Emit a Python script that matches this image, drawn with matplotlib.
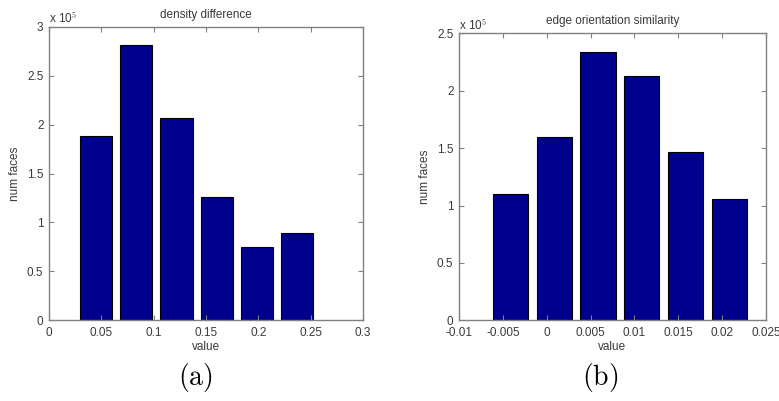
import matplotlib
matplotlib.use("Agg")
import matplotlib.pyplot as plt
import numpy as np

plt.rcParams['mathtext.fontset'] = 'cm'
plt.rcParams['font.family'] = ['Liberation Sans', 'DejaVu Sans']

# Panel (a): density difference
a_centers = [0.0450, 0.0834, 0.1218, 0.1602, 0.1986, 0.2370]
a_counts = [1.88e5, 2.81e5, 2.07e5, 1.26e5, 0.746e5, 0.892e5]
a_xticks = [0, 0.05, 0.1, 0.15, 0.2, 0.25, 0.3]
a_xticklabels = ['0', '0.05', '0.1', '0.15', '0.2', '0.25', '0.3']
a_yticks = [0, 0.5e5, 1e5, 1.5e5, 2e5, 2.5e5, 3e5]
a_yticklabels = ['0', '0.5', '1', '1.5', '2', '2.5', '3']

# Panel (b): edge orientation similarity
b_centers = [-0.00415, 0.00085, 0.00585, 0.01085, 0.01585, 0.02085]
b_counts = [1.098e5, 1.594e5, 2.334e5, 2.128e5, 1.463e5, 1.057e5]
b_xticks = [-0.01, -0.005, 0, 0.005, 0.01, 0.015, 0.02, 0.025]
b_xticklabels = ['-0.01', '-0.005', '0', '0.005', '0.01', '0.015', '0.02', '0.025']
b_yticks = [0, 0.5e5, 1e5, 1.5e5, 2e5, 2.5e5]
b_yticklabels = ['0', '0.5', '1', '1.5', '2', '2.5']

BAR = '#00008F'
SPINE = '#808080'
TXT = '#3a3a3a'
FS = 8.5

fig = plt.figure(figsize=(7.79, 4.01), dpi=100)
W, H = 779, 401

def make_axes(l, r, t, b):
    return fig.add_axes([l / W, 1 - b / H, (r - l) / W, (b - t) / H])

axA = make_axes(49, 363, 26.7, 320.3)
axB = make_axes(459, 766, 33.3, 320.3)

def style(ax, centers, counts, width, xlim, ylim, xt, xtl, yt, ytl, title):
    ax.bar(centers, counts, width=width, color=BAR, edgecolor='black', linewidth=0.8)
    ax.set_xlim(*xlim)
    ax.set_ylim(*ylim)
    ax.set_xticks(xt)
    ax.set_xticklabels(xtl)
    ax.set_yticks(yt)
    ax.set_yticklabels(ytl)
    for s in ax.spines.values():
        s.set_color(SPINE)
        s.set_linewidth(1.0)
    ax.tick_params(direction='in', length=3.5, width=0.8, color=SPINE,
                   top=True, right=True, labelsize=FS, labelcolor=TXT)
    ax.tick_params(axis='x', pad=5)
    ax.tick_params(axis='y', pad=4)
    ax.set_title(title, fontsize=FS, color=TXT, pad=6.5)
    ax.set_xlabel('value', fontsize=FS, color=TXT, labelpad=1.5)
    ax.set_ylabel('num faces', fontsize=FS, color=TXT, labelpad=4)
    ax.text(0.0, 1.0, r'x 10$^5$', transform=ax.transAxes, fontsize=FS,
            color=TXT, ha='left', va='bottom')

style(axA, a_centers, a_counts, 0.0307, (0, 0.3), (0, 3e5),
      a_xticks, a_xticklabels, a_yticks, a_yticklabels, 'density difference')
style(axB, b_centers, b_counts, 0.004, (-0.01, 0.025), (0, 2.5e5),
      b_xticks, b_xticklabels, b_yticks, b_yticklabels, 'edge orientation similarity')

fig.text(195 / W, 1 - 378 / H, r'$\mathrm{(a)}$', fontsize=20, ha='center', va='center', color='black')
fig.text(600 / W, 1 - 378 / H, r'$\mathrm{(b)}$', fontsize=20, ha='center', va='center', color='black')

fig.savefig('out.png', dpi=100)
